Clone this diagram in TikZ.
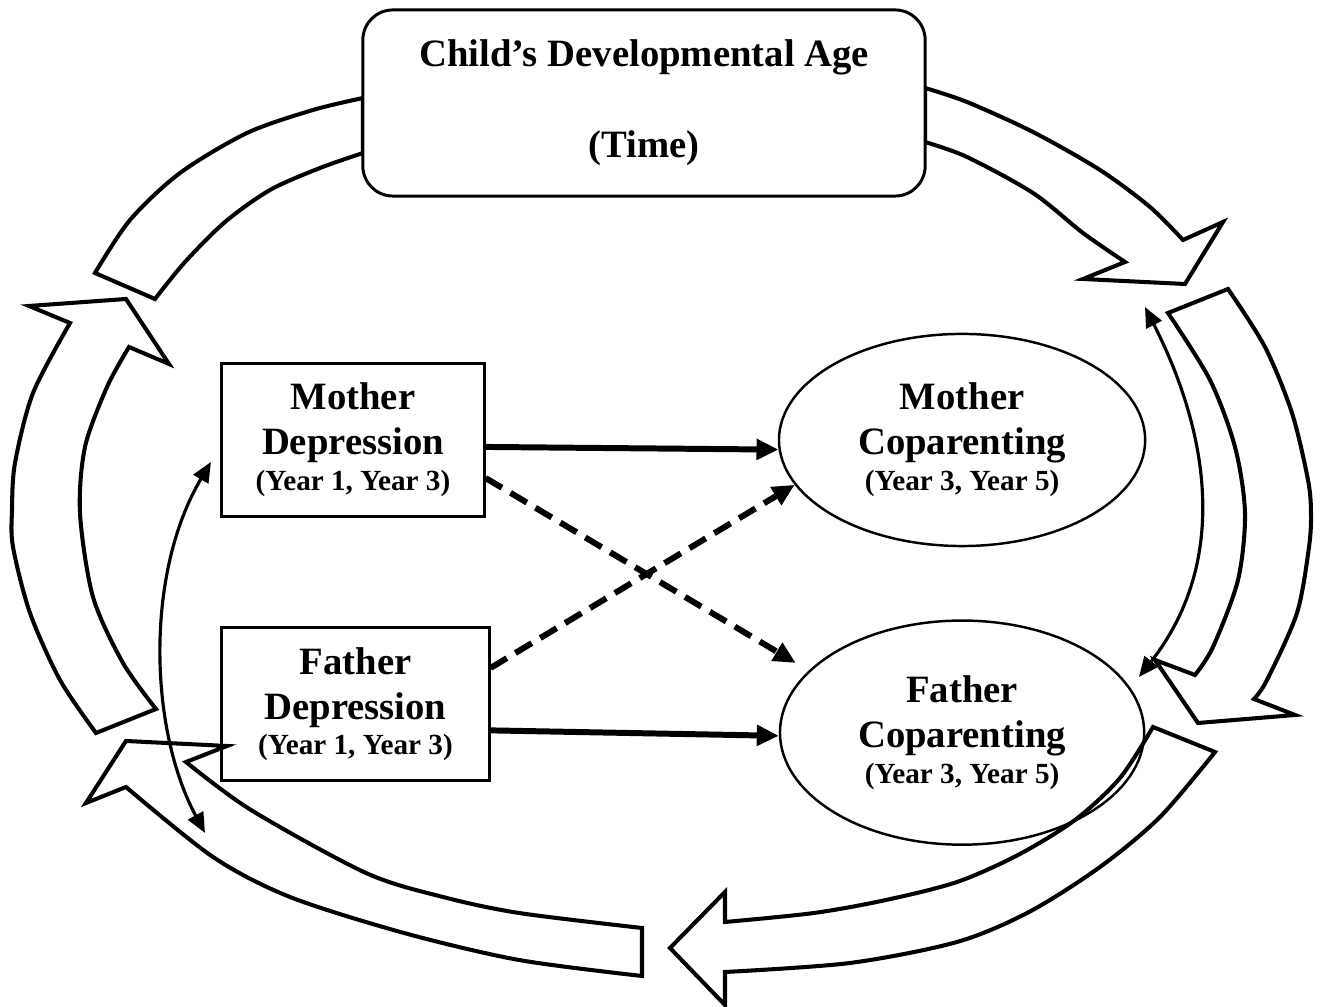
\documentclass[tikz,border=0pt]{standalone}
\usepackage{fontspec}
\setmainfont{Liberation Serif}
\usetikzlibrary{arrows.meta,positioning,shapes.geometric}
\newcommand\yrs[1]{{\fontsize{8.3}{10}\selectfont #1}}

\begin{document}
\begin{tikzpicture}[x=0.01cm,y=-0.01cm,>={Triangle[length=0.22cm,width=0.2cm]},
  lab/.style={font=\fontsize{11}{12.8}\selectfont\bfseries,align=center,inner sep=0pt},
  depbox/.style={lab,draw,line width=0.85pt,minimum height=1.53cm},
  copbox/.style={lab,draw,ellipse,line width=0.7pt,minimum width=3.66cm,minimum height=2.12cm},
  band/.style={draw,line width=1.15pt,line join=miter},
  solidfx/.style={->,line width=1.7pt},
  dashfx/.style={solidfx,dash pattern=on 0.19cm off 0.1cm},
  covary/.style={{Triangle[length=0.2cm,width=0.17cm]}-{Triangle[length=0.2cm,width=0.17cm]},line width=0.9pt}]
  \fill[white] (0,0) rectangle (1323,1007);
  \useasboundingbox (0,0) rectangle (1323,1007);

  % the cycle of time round the model
  \draw[band] plot[smooth] coordinates {(363,98) (313,110) (247,133) (180,173) (130,220) (95,273)}
    -- plot[smooth] coordinates {(155,299) (185,262) (225,222) (270,190) (320,168) (363,153)} -- cycle;
  \draw[band] plot[smooth] coordinates {(925,88) (967,102) (1033,132) (1100,170) (1150,207) (1183,240)}
    -- (1223,222) -- (1185,284) -- (1083,279)
    -- plot[smooth] coordinates {(1125,262) (1083,233) (1033,193) (967,157) (925,142)} -- cycle;
  \draw[band] plot[smooth] coordinates {(1228,289) (1265,347) (1292,413) (1308,480) (1311,513) (1309,547) (1297,613) (1267,680) (1254,699)}
    -- (1295,715) -- (1198,723) -- (1155,660)
    -- plot[smooth] coordinates {(1195,675) (1213,647) (1238,580) (1245,513) (1235,447) (1210,380) (1168,313)} -- cycle;
  \draw[band] plot[smooth] coordinates {(1215,752) (1160,817) (1100,867) (1029,912) (957,942) (850,963) (725,972)}
    -- (725,1005) -- (670,948) -- (725,892)
    -- plot[smooth] coordinates {(725,922) (814,913) (886,900) (957,882) (1018,855) (1075,820) (1120,778) (1153,727)} -- cycle;
  \draw[band] plot[smooth] coordinates {(642,976) (519,960) (404,933) (290,897) (213,857) (126,787)}
    -- (86,803) -- (126,741) -- (227,746)
    -- plot[smooth] coordinates {(186,762) (251,810) (366,873) (443,897) (519,913) (642,928)} -- cycle;
  \draw[band] plot[smooth] coordinates {(96,733) (60,680) (30,613) (13,547) (12,510) (15,463) (33,393) (70,323)}
    -- (29,306) -- (126,299) -- (169,364)
    -- plot[smooth] coordinates {(129,347) (107,387) (85,447) (80,513) (93,597) (123,663) (156,709)} -- cycle;

  \node[lab,draw,fill=white,rounded corners=0.3cm,line width=0.85pt,minimum width=5.62cm,minimum height=1.86cm] (age) at (644,103) {Child’s Developmental Age\\[13pt](Time)};

  \node[depbox,minimum width=2.62cm] (MD) at (353,440) {Mother\\Depression\\[-2.6pt]\yrs{(Year 1, Year 3)}};
  \node[depbox,minimum width=2.67cm,below=1.08cm of MD,xshift=0.025cm] (FD) {Father\\Depression\\[-2.6pt]\yrs{(Year 1, Year 3)}};
  \node[copbox,right=2.92cm of MD] (MC) {Mother\\Coparenting\\[-2.6pt]\yrs{(Year 3, Year 5)}};
  \node[copbox,minimum width=3.64cm,minimum height=2.24cm,below=0.72cm of MC] (FC) {Father\\Coparenting\\[-2.6pt]\yrs{(Year 3, Year 5)}};

  \draw[solidfx] (MD.-3) -- (MC.183);
  \draw[solidfx] (FD.-11) -- (FC.181);
  \draw[dashfx,shorten >=0.15cm] (MD.-16) -- (FC.158);
  \draw[dashfx] (FD.15) -- (MC.195);

  % covariances
  \coordinate (mL) at (211,462);
  \coordinate (fL) at (205,833);
  \coordinate (mR) at (1145,307);
  \coordinate (fR) at (1139,677);
  \draw[covary] (mL) .. controls (145,573) and (149,729) .. (fL);
  \draw[covary] (mR) .. controls (1212,439) and (1227,565) .. (fR);
\end{tikzpicture}
\end{document}
